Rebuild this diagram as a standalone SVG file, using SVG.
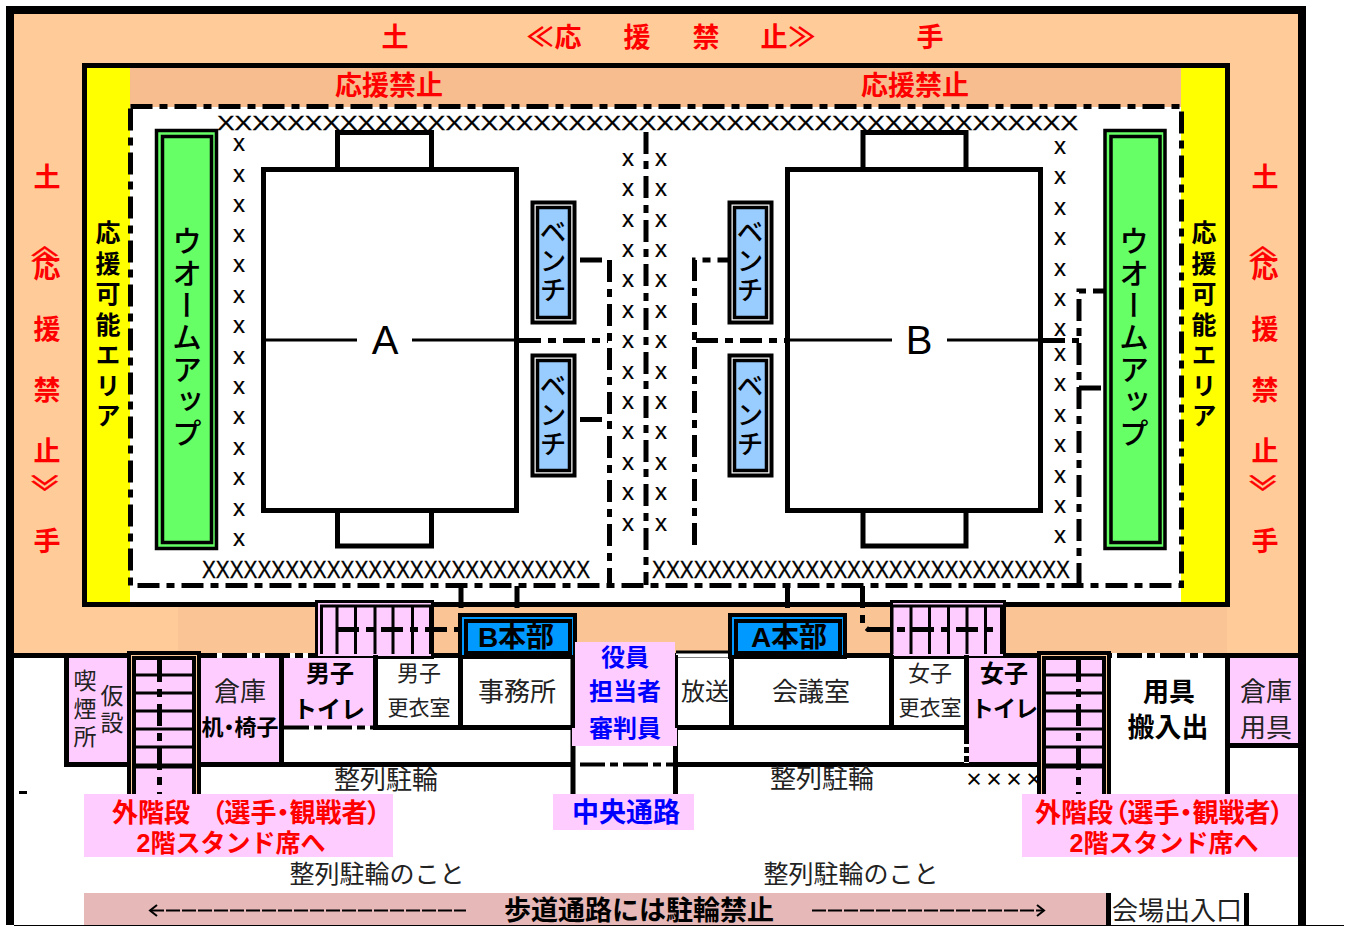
<svg xmlns="http://www.w3.org/2000/svg" width="1346" height="926" viewBox="0 0 1346 926" font-size="24">
<style>
text{font-family:"Noto Sans CJK JP","Noto Sans",sans-serif;text-anchor:middle;dominant-baseline:central;fill:#000}
.b{font-weight:700}
.a{font-family:"Liberation Sans","Noto Sans CJK JP",sans-serif}
.m{font-weight:500}
.r{fill:#f00;font-weight:700}
.bl{fill:#00f;font-weight:700}
.g{fill:#222}
.p{font-feature-settings:"palt"}
.v{writing-mode:vertical-rl;text-anchor:start;dominant-baseline:auto}
.x{font-family:"Liberation Sans",Arial,sans-serif;text-anchor:start;stroke:#000;stroke-width:.3}
.sx{font-family:"Liberation Sans",Arial,sans-serif;stroke:#000;stroke-width:.2}
.k{fill:none;stroke:#000}
.dd{fill:none;stroke:#000;stroke-width:5;stroke-dasharray:22 7 8 7}
.pink{fill:#FFCCFF}
.st{stroke:#000;stroke-width:3}
.rot{stroke:#f00;stroke-width:.5}
</style>
<defs>
<g id="bench"><rect x="1.500" y="1.500" width="42" height="120" fill="#fff" stroke="#000" stroke-width="4"/><rect x="6.500" y="6.500" width="32" height="110" fill="#99CCFF" stroke="#000" stroke-width="3.500"/></g>
<g id="warm"><rect x="0" y="0" width="60" height="418" fill="#66FF66" stroke="#000" stroke-width="3.500"/><rect x="6" y="6" width="49" height="406" fill="#66FF66" stroke="#000" stroke-width="3.500"/></g>
<g id="hq"><rect x="0" y="0" width="115" height="42" fill="#0099FF" stroke="#000" stroke-width="4"/><rect x="6" y="6" width="104" height="32" fill="#0099FF" stroke="#000" stroke-width="4"/></g>
<g id="stairV"><rect x="0" y="0" width="70" height="143" fill="#FFCC99" stroke="#000" stroke-width="4"/><rect x="5" y="5" width="60" height="143" fill="#FFCCFF" stroke="#000" stroke-width="4"/><path class="st" d="M5 22H65M5 40H65M5 58H65M5 76H65M5 94H65"/><path d="M5 113H65" stroke="#000" stroke-width="5"/></g>
</defs>
<rect width="1346" height="926" fill="#fff"/>
<g id="site">
<rect x="14" y="14" width="1284" height="640" fill="#FFCC99"/>
<rect x="178" y="606" width="1049" height="48" fill="#FBC495"/>
<rect x="10" y="10" width="1292" height="920" fill="none" stroke="#000" stroke-width="8"/>
<rect x="0" y="925" width="1346" height="1" fill="#fff"/>
<path d="M14 925.500H1344" stroke="#000" stroke-width="1"/>
<rect x="1306" y="0" width="40" height="925" fill="#fff"/>
</g>
<g id="hall">
<rect x="84.500" y="65.500" width="1143" height="539" fill="#fff" stroke="#000" stroke-width="5"/>
<rect x="87" y="68" width="43" height="534" fill="#FF0"/>
<rect x="1181" y="68" width="44" height="534" fill="#FF0"/>
<rect x="130" y="68" width="1051" height="39" fill="#F8BD8E"/>
</g>
<g id="courtA">
<rect x="263.500" y="169.500" width="253" height="341" fill="#fff" stroke="#000" stroke-width="5"/>
<path class="k" stroke-width="5" d="M337.500 167V132.500H431.500V167M337.500 513V546H431.500V513"/>
<path class="k" stroke-width="3" d="M266 340H357M412 340H514"/>
<text class="a" x="385" y="340" font-size="40">A</text>
</g>
<g id="courtB">
<rect x="787.500" y="169.500" width="253" height="341" fill="#fff" stroke="#000" stroke-width="5"/>
<path class="k" stroke-width="5" d="M863 167V132.500H966V167M863 513V546H966V513"/>
<path class="k" stroke-width="3" d="M790 340H892M947 340H1038"/>
<text class="a" x="919" y="340" font-size="40">B</text>
</g>
<g id="connectors">
<rect class="dd" x="130.500" y="106.500" width="1051" height="479"/>
<path class="dd" d="M609.500 260V585M580 260H608M519 340.500H608M580 419.500H604"/>
<path class="dd" d="M694.500 545V260H730M696 340.500H786"/>
<path class="dd" d="M1079 585V291H1104M1043 340.500H1079M1079 388H1104"/>
<path class="dd" d="M646 132V585"/>
<path class="dd" d="M461 586V612M517 586V608M787.500 586V608M862.500 586V625L868 629.500H890"/>
</g>
<g id="floorline">
<path d="M14 655.500H1298" stroke="#000" stroke-width="5"/>
<path d="M676 652H730" stroke="#000" stroke-width="3"/>
<rect x="676" y="653.500" width="54" height="4" fill="#fff"/>
<path d="M217 655.500H373M1112 655.500H1225" stroke="#fff" stroke-width="5" stroke-dasharray="5 25 5 8"/>
</g>
<g id="upperStairL">
<rect x="316.500" y="601.500" width="116" height="56" fill="#FFCCFF" stroke="#000" stroke-width="3"/>
<path class="k" stroke-width="3" d="M320 606H431M321.500 606V654M337 606V654M355.500 606V654M375 606V654M393 606V654M412.500 606V654M430.500 606V654"/>
<path class="dd" d="M337 629.500H460"/>
</g>
<g id="upperStairR">
<rect x="891.500" y="601.500" width="113" height="56" fill="#FFCCFF" stroke="#000" stroke-width="3"/>
<path class="k" stroke-width="3" d="M893 606H1003M892 606V654M911 606V654M929.500 606V654M948.500 606V654M967 606V654M985.500 606V654M1001.500 606V654"/>
<path class="dd" d="M868 629.500H1000"/>
</g>
<g id="rooms">
<rect x="69" y="658" width="61" height="104" class="pink"/>
<rect x="200" y="658" width="80" height="104" class="pink"/>
<rect x="284" y="658" width="90" height="68" class="pink"/>
<rect x="969" y="658" width="69" height="105" class="pink"/>
<rect x="1230" y="658" width="68" height="86" class="pink"/>
<path class="k" stroke-width="5" d="M66.500 655V767M64 764.500H572M281.500 655V767M375.500 655V730M460.500 655V730M378 727.500H573M573 655V745M573 745V794"/>
<path class="k" stroke-width="5" d="M675.500 655V794M675 727.500H964M731.500 655V730M891.500 655V730M966.500 655V730M675 764.500H1038M1227.500 655V794M1230 745.500H1298"/>
<path class="k" stroke-width="4" stroke-dasharray="25 5 8 5" d="M284 727.500H373"/>
<rect x="576" y="762" width="97" height="5" fill="#fff"/>
<path class="k" stroke-width="4" stroke-dasharray="25 5 8 5" d="M580 764.500H673"/>
<rect x="964" y="730" width="5" height="33" fill="#fff"/>
<path d="M966.500 730V765" stroke="#000" stroke-width="5" stroke-dasharray="14 3 6 3 6"/>
</g>
<use id="stairL" href="#stairV" x="129" y="653"/>
<use id="stairR" href="#stairV" x="1039" y="653"/>
<path class="dd" d="M159.500 660V794M1078.500 660V794"/>
<g id="hqB"><use href="#hq" x="460" y="615"/><text x="516" y="637" class="b a" font-size="28">B本部</text></g>
<g id="hqA"><use href="#hq" x="730" y="615"/><text x="789" y="637" class="b a" font-size="28">A本部</text></g>
<g id="captionBoxes">
<path class="pink" d="M575 642H675V728H677V746H572V728H575Z"/>
<rect x="84" y="794" width="309" height="63" class="pink"/>
<rect x="553" y="794" width="141" height="36" class="pink"/>
<rect x="1022" y="794" width="276" height="63" class="pink"/>
<rect x="84" y="893" width="1022" height="32" fill="#E6B8B7"/>
<path class="k" stroke-width="5" d="M1108.500 893V926M1246.500 893V926"/>
<rect x="19" y="791" width="8" height="3" fill="#000"/>
</g>
<g id="benches">
<use href="#bench" x="531" y="201"/><use href="#bench" x="531" y="354"/>
<use href="#bench" x="728" y="201"/><use href="#bench" x="728" y="354"/>
<text class="v m" x="553" y="218" font-size="27" style="letter-spacing:2px">ベンチ</text>
<text class="v m" x="553" y="372" font-size="27" style="letter-spacing:2px">ベンチ</text>
<text class="v m" x="750" y="218" font-size="27" style="letter-spacing:2px">ベンチ</text>
<text class="v m" x="750" y="372" font-size="27" style="letter-spacing:2px">ベンチ</text>
</g>
<g id="warmups">
<use href="#warm" x="156.500" y="130.500"/><use href="#warm" x="1105" y="130.500"/>
<text class="v m" x="187" y="226" font-size="30" style="letter-spacing:2px">ウオームアップ</text>
<text class="v m" x="1134" y="226" font-size="30" style="letter-spacing:2px">ウオームアップ</text>
</g>
<g id="xmarks">
<text class="x" x="217" y="122" font-size="21" textLength="861" lengthAdjust="spacingAndGlyphs">XXXXXXXXXXXXXXXXXXXXXXXXXXXXXXXXXXXXXXXXXXXXXXXXX</text>
<text class="x" x="202" y="570" font-size="23" textLength="388" lengthAdjust="spacingAndGlyphs">XXXXXXXXXXXXXXXXXXXXXXXXXXXX</text>
<text class="x" x="652" y="570" font-size="23" textLength="418" lengthAdjust="spacingAndGlyphs">XXXXXXXXXXXXXXXXXXXXXXXXXXXXXX</text>
<g font-size="24">
<text class="sx" x="239" y="142">x</text><text class="sx" x="239" y="173">x</text><text class="sx" x="239" y="203">x</text><text class="sx" x="239" y="233">x</text><text class="sx" x="239" y="263">x</text><text class="sx" x="239" y="294">x</text><text class="sx" x="239" y="324">x</text><text class="sx" x="239" y="355">x</text><text class="sx" x="239" y="385">x</text><text class="sx" x="239" y="415">x</text><text class="sx" x="239" y="446">x</text><text class="sx" x="239" y="476">x</text><text class="sx" x="239" y="507">x</text><text class="sx" x="239" y="537">x</text>
<text class="sx" x="628" y="157">x</text><text class="sx" x="628" y="187">x</text><text class="sx" x="628" y="218">x</text><text class="sx" x="628" y="248">x</text><text class="sx" x="628" y="278">x</text><text class="sx" x="628" y="309">x</text><text class="sx" x="628" y="339">x</text><text class="sx" x="628" y="370">x</text><text class="sx" x="628" y="400">x</text><text class="sx" x="628" y="430">x</text><text class="sx" x="628" y="461">x</text><text class="sx" x="628" y="491">x</text><text class="sx" x="628" y="522">x</text>
<text class="sx" x="661" y="157">x</text><text class="sx" x="661" y="187">x</text><text class="sx" x="661" y="218">x</text><text class="sx" x="661" y="248">x</text><text class="sx" x="661" y="278">x</text><text class="sx" x="661" y="309">x</text><text class="sx" x="661" y="339">x</text><text class="sx" x="661" y="370">x</text><text class="sx" x="661" y="400">x</text><text class="sx" x="661" y="430">x</text><text class="sx" x="661" y="461">x</text><text class="sx" x="661" y="491">x</text><text class="sx" x="661" y="522">x</text>
<text class="sx" x="1060" y="145">x</text><text class="sx" x="1060" y="175">x</text><text class="sx" x="1060" y="206">x</text><text class="sx" x="1060" y="236">x</text><text class="sx" x="1060" y="267">x</text><text class="sx" x="1060" y="297">x</text><text class="sx" x="1060" y="327">x</text><text class="sx" x="1060" y="352">x</text><text class="sx" x="1060" y="382">x</text><text class="sx" x="1060" y="413">x</text><text class="sx" x="1060" y="443">x</text><text class="sx" x="1060" y="474">x</text><text class="sx" x="1060" y="504">x</text><text class="sx" x="1060" y="534">x</text>
</g>
<text x="1005" y="778" font-size="18" class="b" style="letter-spacing:2px">××××</text>
</g>
<g id="labels">
<g font-size="27">
<text class="r" x="395" y="35">土</text><text class="r" x="540" y="35">≪</text><text class="r" x="568" y="35">応</text><text class="r" x="637" y="35">援</text><text class="r" x="706" y="35">禁</text><text class="r" x="774" y="35">止</text><text class="r" x="802" y="35">≫</text><text class="r" x="930" y="35">手</text>
<text class="r" x="389" y="83">応援禁止</text><text class="r" x="915" y="83">応援禁止</text>
<text class="r" x="47" y="175">土</text><text class="r" x="47" y="266">応</text><text class="r" x="47" y="327">援</text><text class="r" x="47" y="388">禁</text><text class="r" x="47" y="449">止</text><text class="r" x="47" y="539">手</text>
<text class="r" x="1265" y="175">土</text><text class="r" x="1265" y="266">応</text><text class="r" x="1265" y="327">援</text><text class="r" x="1265" y="388">禁</text><text class="r" x="1265" y="449">止</text><text class="r" x="1265" y="539">手</text>
</g>
<g font-size="34">
<text class="r rot" transform="translate(47 254) scale(1 .5) rotate(90)">≪</text><text class="r rot" transform="translate(47 483) scale(1 .5) rotate(90)">≫</text>
<text class="r rot" transform="translate(1265 254) scale(1 .5) rotate(90)">≪</text><text class="r rot" transform="translate(1265 483) scale(1 .5) rotate(90)">≫</text>
</g>
<text class="v b" x="108" y="220" font-size="25" style="letter-spacing:5.500px">応援可能エリア</text>
<text class="v b" x="1204" y="220" font-size="25" style="letter-spacing:5.500px">応援可能エリア</text>
<text class="g" x="85" y="679" font-size="23">喫</text><text class="g" x="85" y="707" font-size="23">煙</text><text class="g" x="85" y="735" font-size="23">所</text><text class="g" x="112" y="694" font-size="23">仮</text><text class="g" x="112" y="721" font-size="23">設</text>
<text class="g" x="240" y="689" font-size="26">倉庫</text><text class="b p" x="240" y="725" font-size="22">机・椅子</text>
<text class="b" x="330" y="671" font-size="24">男子</text><text class="b" x="329" y="707" font-size="24">トイレ</text>
<text class="g" x="419" y="671" font-size="22">男子</text><text class="g" x="419" y="706" font-size="21">更衣室</text>
<text class="g" x="517" y="689" font-size="26">事務所</text>
<text class="bl" x="625" y="655" font-size="24">役員</text><text class="bl" x="625" y="689" font-size="24">担当者</text><text class="bl" x="625" y="726" font-size="24">審判員</text>
<text class="g" x="705" y="689">放送</text><text class="g" x="811" y="689" font-size="26">会議室</text>
<text class="g" x="930" y="671" font-size="22">女子</text><text class="g" x="930" y="706" font-size="21">更衣室</text>
<text class="b" x="1004" y="671" font-size="24">女子</text><text class="b" x="1004" y="707" font-size="23" style="letter-spacing:-1px">トイレ</text>
<text class="b" x="1169" y="689" font-size="26">用具</text><text class="b" x="1168" y="725" font-size="27">搬入出</text>
<text class="g" x="1266" y="689" font-size="26">倉庫</text><text class="g" x="1266" y="725" font-size="26">用具</text>
<text class="g" x="386" y="777" font-size="26">整列駐輪</text><text class="g" x="822" y="776" font-size="26">整列駐輪</text>
<text class="r" x="151" y="810" font-size="26">外階段</text><text class="r p" x="296" y="810" font-size="26">（選手・観戦者）</text><text class="r a" x="231" y="843" font-size="25">2階スタンド席へ</text>
<text class="bl" x="626" y="810" font-size="27">中央通路</text>
<text class="r" x="1074" y="810" font-size="26">外階段</text><text class="r p" x="1199" y="810" font-size="26">（選手・観戦者）</text><text class="r a" x="1164" y="843" font-size="25">2階スタンド席へ</text>
<text class="g" x="377" y="872" font-size="25">整列駐輪のこと</text><text class="g" x="851" y="872" font-size="25">整列駐輪のこと</text>
<text class="b" x="639" y="908" font-size="27">歩道通路には駐輪禁止</text>
<text class="g" x="1177" y="908" font-size="26">会場出入口</text>
</g>
<g id="arrows">
<path class="k" stroke-width="2" d="M150 910.500H466M812 910.500H1043" stroke-dasharray="14 2"/>
<path class="k" stroke-width="2" d="M157 905L150 910.500L157 916M1037 905L1044 910.500L1037 916"/>
</g>
</svg>
